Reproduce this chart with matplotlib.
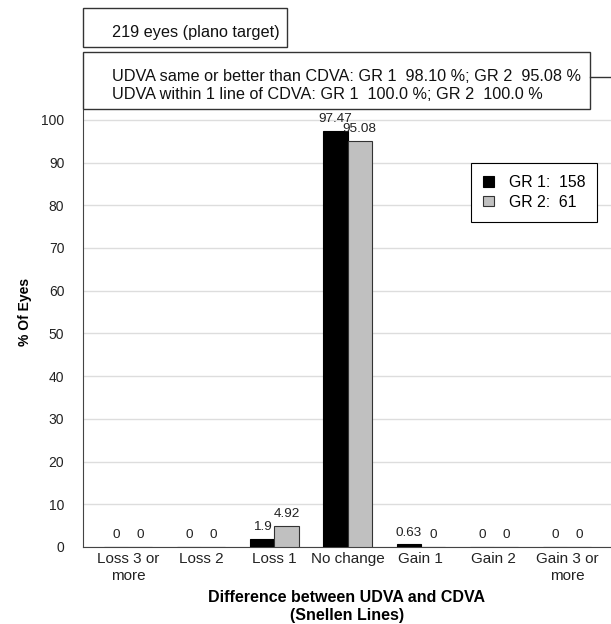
import numpy as np
import matplotlib.pyplot as plt
from matplotlib.patches import Rectangle
from matplotlib.lines import Line2D

plt.rcParams['font.family'] = ['Liberation Sans', 'DejaVu Sans']

# data
categories = ['Loss 3 or\nmore', 'Loss 2', 'Loss 1', 'No change', 'Gain 1', 'Gain 2', 'Gain 3 or\nmore']
gr1 = [0, 0, 1.9, 97.47, 0.63, 0, 0]
gr2 = [0, 0, 4.92, 95.08, 0, 0, 0]
gr1_labels = ['0', '0', '1.9', '97.47', '0.63', '0', '0']
gr2_labels = ['0', '0', '4.92', '95.08', '0', '0', '0']
series_names = ['GR 1:  158', 'GR 2:  61']
box_title = '219 eyes (plano target)'
box_lines = ['UDVA same or better than CDVA: GR 1  98.10 %; GR 2  95.08 %',
             'UDVA within 1 line of CDVA: GR 1  100.0 %; GR 2  100.0 %']

W, H = 611, 624
fig = plt.figure(figsize=(W / 100, H / 100), dpi=100)

def fx(px):
    return px / W

def fy(py):
    return 1 - py / H

# plot area: x from 83 to 611 px, y from 110 to 547 px
ax = fig.add_axes([fx(83), fy(547), fx(611) - fx(83), fy(110) - fy(547)])

x = np.arange(len(categories))
bw = 0.33
b1 = ax.bar(x - bw / 2, gr1, bw, color='black', edgecolor='black', linewidth=0.8, zorder=3)
b2 = ax.bar(x + bw / 2, gr2, bw, color='#c0c0c0', edgecolor='#333333', linewidth=0.8, zorder=3)

ax.bar_label(b1, labels=gr1_labels, padding=4, fontsize=9.7, color='#222222')
ax.bar_label(b2, labels=gr2_labels, padding=4, fontsize=9.7, color='#222222')

ax.set_xlim(-0.616, 6.6)
ax.set_ylim(0, 102.3)
ax.set_yticks(np.arange(0, 101, 10))
ax.set_xticks(x)
ax.set_xticklabels(categories, fontsize=11, color='#222222', linespacing=1.25)
ax.tick_params(axis='y', length=0, labelsize=10, labelcolor='#222222', pad=13.5)
ax.tick_params(axis='x', length=0, pad=3.5)
ax.yaxis.grid(True, color='#dddddd', linewidth=1.0, zorder=0)
ax.set_axisbelow(True)
for s in ['top', 'right']:
    ax.spines[s].set_visible(False)
ax.spines['left'].set_color('#444444')
ax.spines['bottom'].set_color('#444444')

ax.set_ylabel('% Of Eyes', fontsize=10, fontweight='bold')
ax.yaxis.set_label_coords(-0.097, (547 - 312) / (547 - 110))
ax.set_xlabel('Difference between UDVA and CDVA\n(Snellen Lines)', fontsize=11.5,
              fontweight='bold', labelpad=5, linespacing=1.3)

ax.legend([b1, b2], series_names, loc='upper right', bbox_to_anchor=(fx(597), fy(163)),
          bbox_transform=fig.transFigure, borderaxespad=0, fancybox=False,
          edgecolor='black', framealpha=1, fontsize=11.4, handlelength=0.65,
          handleheight=0.65, borderpad=0.75, labelspacing=0.3, handletextpad=0.95)
ax.get_legend().get_frame().set_linewidth(0.8)

# annotation boxes on top
fig.add_artist(Rectangle((fx(83), fy(47)), fx(287) - fx(83), fy(8) - fy(47),
                         transform=fig.transFigure, fill=False, edgecolor='#333333', linewidth=1))
fig.text(fx(112), fy(32), box_title, fontsize=11.7, va='center', ha='left', color='#111111')

fig.add_artist(Rectangle((fx(83), fy(109)), fx(590) - fx(83), fy(52) - fy(109),
                         transform=fig.transFigure, fill=False, edgecolor='#333333', linewidth=1))
fig.text(fx(112), fy(85.5), '\n'.join(box_lines), fontsize=11.7, va='center', ha='left',
         color='#111111', linespacing=1.25)
fig.add_artist(Line2D([fx(590), fx(611)], [fy(77), fy(77)], transform=fig.transFigure,
                      color='#333333', linewidth=1))

fig.savefig('out.png', dpi=100)
